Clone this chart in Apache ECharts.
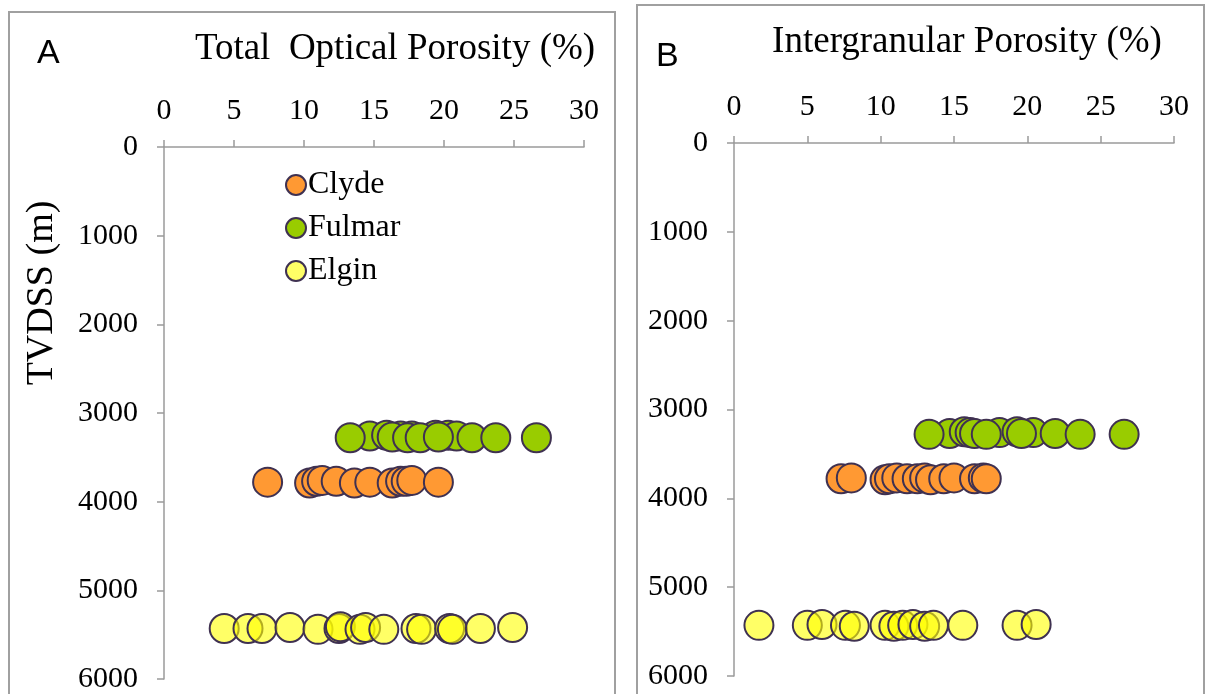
<!DOCTYPE html>
<html>
<head>
<meta charset="utf-8">
<script src="https://cdn.jsdelivr.net/npm/echarts@6/dist/echarts.min.js"></script>
<style>
  html, body { margin: 0; padding: 0; background: #fff; }
  #chart { width: 1208px; height: 694px; }
</style>
</head>
<body>
<div id="chart"></div>
<script>
// Porosity (%) and depth TVDSS (m) per field, panel A: total optical porosity
const clydeTotalPor   = [7.4, 10.4, 10.9, 11.3, 12.3, 13.6, 14.7, 16.3, 16.9, 17.3, 17.7, 19.6];
const clydeTotalDepth = [3780, 3790, 3770, 3760, 3770, 3790, 3780, 3790, 3770, 3770, 3760, 3780];
const fulmarTotalPor   = [14.7, 15.9, 16.9, 17.7, 19.4, 20.3, 20.9, 16.3, 17.4, 18.3, 19.6, 22.0, 23.7, 13.3, 26.6];
const fulmarTotalDepth = [3260, 3250, 3260, 3260, 3250, 3250, 3260, 3270, 3280, 3280, 3270, 3280, 3280, 3280, 3280];
const elginTotalPor   = [4.3, 6.0, 7.0, 9.0, 11.0, 12.5, 12.6, 14.0, 14.4, 15.7, 18.0, 18.4, 20.4, 20.6, 22.6, 24.9];
const elginTotalDepth = [5430, 5430, 5430, 5420, 5440, 5430, 5410, 5440, 5420, 5440, 5430, 5440, 5430, 5440, 5430, 5420];

// Panel B: intergranular porosity
const clydeInterPor   = [7.3, 8.0, 10.3, 10.6, 11.1, 11.8, 12.5, 13.0, 13.4, 14.3, 15.0, 16.4, 17.0, 17.2];
const clydeInterDepth = [3780, 3770, 3790, 3780, 3770, 3780, 3780, 3770, 3790, 3780, 3770, 3780, 3770, 3780];
const fulmarInterPor   = [14.7, 15.7, 16.1, 18.1, 19.3, 20.4, 16.4, 17.2, 19.6, 21.9, 23.6, 13.3, 26.6];
const fulmarInterDepth = [3270, 3250, 3260, 3260, 3250, 3260, 3270, 3280, 3270, 3270, 3280, 3280, 3280];
const elginInterPor   = [1.7, 5.0, 6.0, 7.6, 8.2, 10.3, 10.9, 11.5, 12.2, 13.0, 13.6, 15.6, 19.3, 20.6];
const elginInterDepth = [5430, 5430, 5420, 5430, 5440, 5430, 5440, 5430, 5420, 5440, 5430, 5430, 5430, 5420];

const fieldNames = ['Clyde', 'Fulmar', 'Elgin'];
const xTicks = [0, 30, 5];      // min, max, interval
const yTicks = [0, 6000, 1000]; // min, max, interval

const serif = '"Liberation Serif", "DejaVu Serif", serif';
const sans = '"Liberation Sans", Arial, sans-serif';
const axisGray = '#9a9a9a';
const edge = '#3F3151';
const fills = {
  Clyde: '#FF9933',
  Fulmar: '#99CC00',
  Elgin: 'rgba(255,255,0,0.6)'
};

function pairs(xs, ys) { return xs.map((v, i) => [v, ys[i]]); }

function scatter(name, idx, xs, ys) {
  return {
    name: name,
    type: 'scatter',
    xAxisIndex: idx,
    yAxisIndex: idx,
    symbol: 'circle',
    symbolSize: 29,
    itemStyle: { color: fills[name], borderColor: edge, borderWidth: 2, opacity: 1 },
    emphasis: { disabled: true },
    data: pairs(xs, ys)
  };
}

function xAxis(gridIndex) {
  return {
    gridIndex: gridIndex, type: 'value', position: 'top',
    min: xTicks[0], max: xTicks[1], interval: xTicks[2],
    axisLine: { show: true, lineStyle: { color: axisGray, width: 1.5 } },
    axisTick: { show: true, inside: false, length: 7, lineStyle: { color: axisGray, width: 1.5 } },
    splitLine: { show: false },
    axisLabel: { margin: 21, color: '#000', fontFamily: serif, fontSize: 30 }
  };
}
function yAxis(gridIndex) {
  return {
    gridIndex: gridIndex, type: 'value', inverse: true,
    min: yTicks[0], max: yTicks[1], interval: yTicks[2],
    axisLine: { show: true, lineStyle: { color: axisGray, width: 1.5 } },
    axisTick: { show: true, inside: false, length: 7, lineStyle: { color: axisGray, width: 1.5 } },
    splitLine: { show: false },
    axisLabel: { margin: 26, color: '#000', fontFamily: serif, fontSize: 30,
                 formatter: v => String(v) }
  };
}

const chart = echarts.init(document.getElementById('chart'), null, { renderer: 'canvas' });
chart.setOption({
  animation: false,
  backgroundColor: '#fff',
  grid: [
    { left: 164, top: 147, width: 420, height: 533 },
    { left: 734, top: 143, width: 440, height: 533 }
  ],
  xAxis: [xAxis(0), xAxis(1)],
  yAxis: [yAxis(0), yAxis(1)],
  legend: {
    data: fieldNames,
    orient: 'vertical',
    left: 280, top: 164,
    icon: 'circle',
    itemWidth: 20, itemHeight: 20,
    itemGap: 11,
    textStyle: { fontFamily: serif, fontSize: 32, color: '#000', lineHeight: 31, padding: [0, 0, 0, -3] },
    selectedMode: false
  },
  graphic: [
    { type: 'rect', shape: { x: 9, y: 12, width: 606, height: 720 },
      style: { fill: 'none', stroke: '#a0a0a0', lineWidth: 2 }, silent: true },
    { type: 'rect', shape: { x: 637, y: 5, width: 567, height: 720 },
      style: { fill: 'none', stroke: '#a0a0a0', lineWidth: 2 }, silent: true },
    { type: 'text', left: 37, top: 37,
      style: { text: 'A', font: '34px ' + sans, fill: '#000' } },
    { type: 'text', left: 656, top: 40,
      style: { text: 'B', font: '34px ' + sans, fill: '#000' } },
    { type: 'text', x: 395, y: 49,
      style: { text: 'Total  Optical Porosity (%)', font: '37px ' + serif, fill: '#000',
               textAlign: 'center', textVerticalAlign: 'middle' } },
    { type: 'text', x: 967, y: 42,
      style: { text: 'Intergranular Porosity (%)', font: '37px ' + serif, fill: '#000',
               textAlign: 'center', textVerticalAlign: 'middle' } },
    { type: 'text', x: 42, y: 293, rotation: Math.PI / 2,
      style: { text: 'TVDSS (m)', font: '38px ' + serif, fill: '#000',
               textAlign: 'center', textVerticalAlign: 'middle' } }
  ],
  series: [
    scatter('Fulmar', 0, fulmarTotalPor, fulmarTotalDepth),
    scatter('Clyde', 0, clydeTotalPor, clydeTotalDepth),
    scatter('Elgin', 0, elginTotalPor, elginTotalDepth),
    scatter('Fulmar', 1, fulmarInterPor, fulmarInterDepth),
    scatter('Clyde', 1, clydeInterPor, clydeInterDepth),
    scatter('Elgin', 1, elginInterPor, elginInterDepth)
  ]
});
</script>
</body>
</html>
